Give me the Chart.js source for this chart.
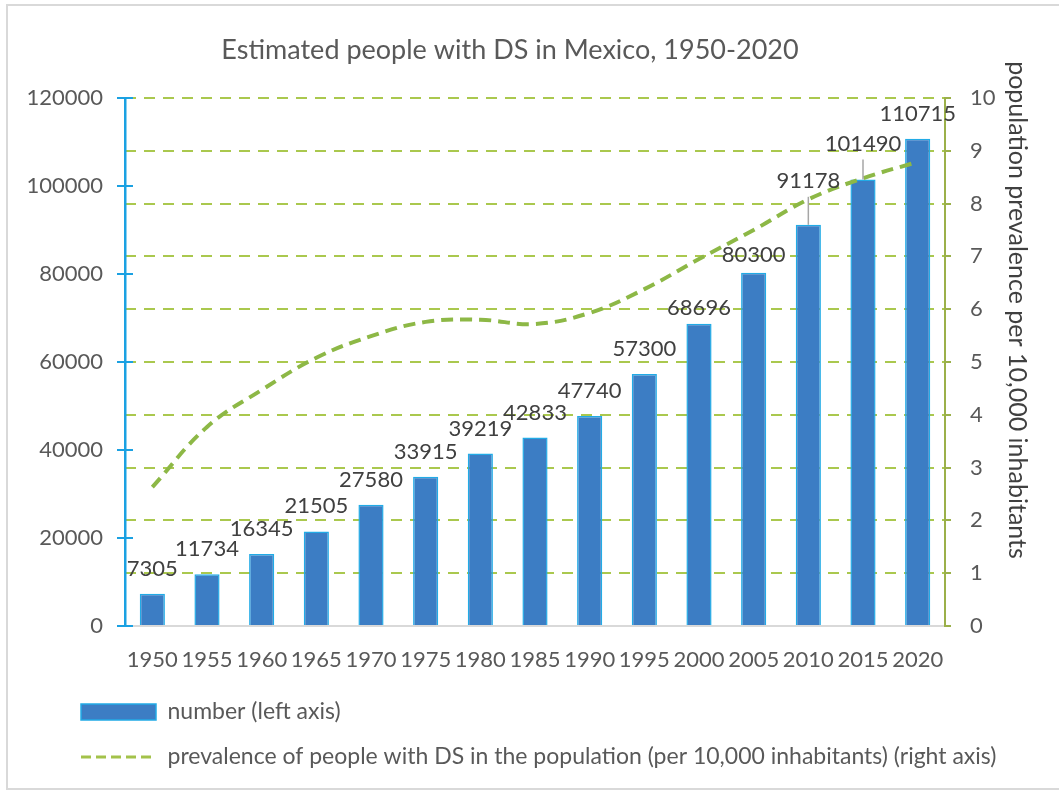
<!DOCTYPE html>
<html>
<head>
<meta charset="utf-8">
<script src="https://cdn.jsdelivr.net/npm/chart.js@4/dist/chart.umd.min.js"></script>
<style>
html,body{margin:0;padding:0;background:#fff;}
#wrap{position:relative;width:1059px;height:795px;}
</style>
</head>
<body>
<div id="wrap"><canvas id="c" width="1059" height="795"></canvas></div>
<script>
const categories = ['1950','1955','1960','1965','1970','1975','1980','1985','1990','1995','2000','2005','2010','2015','2020'];
const numbers = [7305, 11734, 16345, 21505, 27580, 33915, 39219, 42833, 47740, 57300, 68696, 80300, 91178, 101490, 110715];
const prevalence = [2.63, 3.77, 4.47, 5.08, 5.49, 5.76, 5.80, 5.72, 5.93, 6.38, 6.95, 7.5, 8.08, 8.48, 8.79];
const leftAxisMax = 120000, leftAxisStep = 20000;
const rightAxisMax = 10, rightAxisStep = 1;
const titleText = 'Estimated people with DS in Mexico, 1950-2020';
const rightAxisTitle = 'population prevalence per 10,000 inhabitants';
const seriesNames = ['number (left axis)', 'prevalence of people with DS in the population (per 10,000 inhabitants) (right axis)'];

const FONT = 'Lato, "Open Sans", sans-serif';
const labelOffsets = [25,25,25,25,25,25,25,25,25,25,16,18,44,36,25];

const decorPlugin = {
  id: 'decor',
  afterLayout(chart) {
    if (chart.legend) { chart.legend.left += 59; }
  },
  beforeDraw(chart) {
    const ctx = chart.ctx;
    ctx.save();
    ctx.strokeStyle = '#d9d9d9';
    ctx.lineWidth = 2;
    ctx.strokeRect(7, 5, 1062, 784);
    ctx.restore();
  },
  afterDatasetsDraw(chart) {
    const ctx = chart.ctx;
    const meta = chart.getDatasetMeta(0);
    ctx.save();
    ctx.font = '22px ' + FONT;
    ctx.fillStyle = '#404040';
    ctx.textAlign = 'center';
    ctx.textBaseline = 'middle';
    meta.data.forEach((bar, i) => {
      const off = labelOffsets[i];
      const ly = bar.y - off;
      if (off > 30) {
        ctx.strokeStyle = '#a6a6a6';
        ctx.lineWidth = 1.5;
        ctx.beginPath();
        ctx.moveTo(bar.x, ly + 16);
        ctx.lineTo(bar.x, bar.y);
        ctx.stroke();
      }
      ctx.fillText(String(numbers[i]), bar.x, ly);
    });
    ctx.restore();
  },
  afterDraw(chart) {
    const ctx = chart.ctx;
    const ys = chart.scales.y;
    ctx.save();
    ctx.strokeStyle = '#1ba1e2';
    ctx.lineWidth = 2;
    ys.ticks.forEach(t => {
      const py = ys.getPixelForValue(t.value);
      ctx.beginPath();
      ctx.moveTo(ys.right, py);
      ctx.lineTo(ys.right + 8, py);
      ctx.stroke();
    });
    ctx.font = '27px ' + FONT;
    ctx.fillStyle = '#595959';
    ctx.textAlign = 'center';
    ctx.textBaseline = 'middle';
    ctx.fillText(titleText, 510, 50);
    ctx.translate(1017, 310);
    ctx.rotate(Math.PI / 2);
    ctx.font = '25px ' + FONT;
    ctx.fillStyle = '#404040';
    ctx.fillText(rightAxisTitle, 0, 0);
    ctx.restore();
  }
};

new Chart(document.getElementById('c'), {
  data: {
    labels: categories,
    datasets: [
      {
        type: 'bar',
        label: seriesNames[0],
        data: numbers,
        yAxisID: 'y',
        backgroundColor: '#3c7dc4',
        borderColor: '#22abe6',
        borderWidth: 1.5,
        categoryPercentage: 0.46,
        barPercentage: 1,
        order: 1
      },
      {
        type: 'line',
        label: seriesNames[1],
        data: prevalence,
        yAxisID: 'y1',
        borderColor: '#8db846',
        backgroundColor: '#8db846',
        borderWidth: 4,
        borderDash: [12, 7],
        pointRadius: 0,
        tension: 0.4,
        fill: false,
        order: 0
      }
    ]
  },
  options: {
    responsive: false,
    animation: false,
    devicePixelRatio: 1,
    layout: { padding: { top: 98, left: 0, right: 0, bottom: 16.5 } },
    plugins: {
      title: { display: false },
      tooltip: { enabled: false },
      legend: {
        display: true,
        position: 'bottom',
        align: 'start',
        labels: {
          usePointStyle: true,
          pointStyleWidth: 75,
          boxHeight: 16,
          padding: 22,
          color: '#595959',
          font: { family: FONT, size: 23 },
          sort: (a, b) => a.datasetIndex - b.datasetIndex,
          generateLabels(chart) {
            const items = Chart.defaults.plugins.legend.labels.generateLabels(chart);
            items.forEach(it => {
              if (it.datasetIndex === 0) { it.pointStyle = 'rect'; it.lineWidth = 1.5; it.lineDash = []; }
              else { it.pointStyle = 'line'; it.lineWidth = 3; it.lineDash = [10, 5]; it.strokeStyle = '#a3c24a'; }
            });
            return items;
          }
        }
      }
    },
    scales: {
      x: {
        type: 'category',
        offset: true,
        grid: { display: false, drawTicks: false },
        border: { display: true, color: '#d9d9d9', width: 2 },
        ticks: { color: '#595959', font: { family: FONT, size: 22 }, padding: 21, autoSkip: false, maxRotation: 0 },
        afterFit(s) { s.height = 52.5; }
      },
      y: {
        position: 'left',
        min: 0,
        max: leftAxisMax,
        ticks: { stepSize: leftAxisStep, color: '#595959', font: { family: FONT, size: 22 }, padding: 14, callback: v => String(v) },
        grid: { drawOnChartArea: false, color: '#1ba1e2', lineWidth: 2, tickLength: 8 },
        border: { color: '#1ba1e2', width: 2.5 },
        afterFit(s) { s.width = 125; }
      },
      y1: {
        position: 'right',
        min: 0,
        max: rightAxisMax,
        ticks: { stepSize: rightAxisStep, color: '#595959', font: { family: FONT, size: 22 }, padding: 19 },
        grid: { color: '#aac84e', lineWidth: 2, tickLength: 6, tickColor: '#9bb04a', tickWidth: 2 },
        border: { color: '#9bb04a', width: 2, dash: [11, 8] },
        afterFit(s) { s.width = 114; }
      }
    }
  },
  plugins: [decorPlugin]
});
</script>
</body>
</html>
